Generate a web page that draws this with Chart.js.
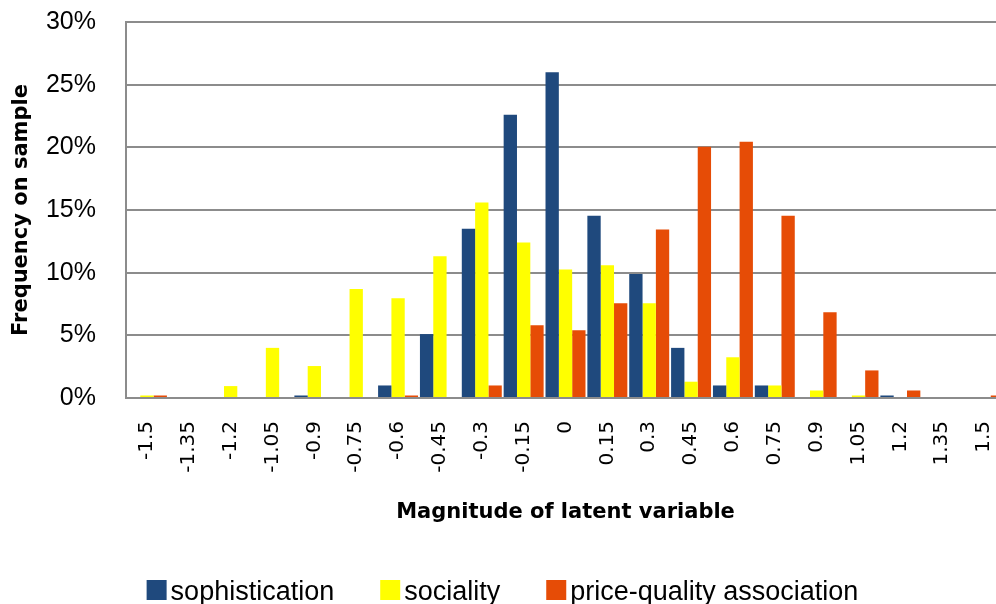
<!DOCTYPE html>
<html>
<head>
<meta charset="utf-8">
<script src="https://cdn.jsdelivr.net/npm/chart.js@4.4.1/dist/chart.umd.min.js"></script>
<style>
  html, body { margin: 0; padding: 0; background: #ffffff; overflow: hidden; }
  #wrap { width: 1010px; height: 604px; position: relative; }
</style>
</head>
<body>
<div id="wrap"><canvas id="c"></canvas></div>
<script>
const categories = ['-1.5','-1.35','-1.2','-1.05','-0.9','-0.75','-0.6','-0.45','-0.3','-0.15','0','0.15','0.3','0.45','0.6','0.75','0.9','1.05','1.2','1.35','1.5'];
const sophistication = [0, 0, 0, 0, 0.2, 0, 1.0, 5.1, 13.5, 22.6, 26.0, 14.55, 9.9, 4.0, 1.0, 1.0, 0, 0, 0.2, 0, 0];
const sociality = [0.2, 0, 0.95, 4.0, 2.55, 8.7, 7.95, 11.3, 15.6, 12.4, 10.25, 10.6, 7.55, 1.3, 3.25, 1.0, 0.6, 0.2, 0, 0, 0];
const priceQuality = [0.2, 0, 0, 0, 0, 0, 0.2, 0, 1.0, 5.8, 5.4, 7.55, 13.45, 20.05, 20.45, 14.55, 6.85, 2.2, 0.6, 0, 0.2];
const seriesNames = ['sophistication', 'sociality', 'price-quality association'];
const yTicks = [0, 5, 10, 15, 20, 25, 30];
const xTitle = 'Magnitude of latent variable';
const yTitle = 'Frequency on sample';

const colors = ['#1F497D', '#FFFF00', '#E64C06'];

const legendPlugin = {
  id: 'customLegend',
  afterDraw(chart) {
    const ctx = chart.ctx;
    ctx.save();
    ctx.font = '27px "Liberation Sans", Arial, sans-serif';
    ctx.textBaseline = 'alphabetic';
    ctx.textAlign = 'left';
    const box = 20, gap = 4, between = 46;
    const items = chart.data.datasets.map(d => ({label: d.label, color: d.backgroundColor, w: ctx.measureText(d.label).width}));
    let total = 0;
    items.forEach((it, i) => { total += box + gap + it.w + (i < items.length - 1 ? between : 0); });
    let x = 502.5 - total / 2;
    items.forEach(it => {
      ctx.fillStyle = it.color;
      ctx.fillRect(x, 580, box, 20);
      ctx.fillStyle = '#000000';
      ctx.fillText(it.label, x + box + gap, 600);
      x += box + gap + it.w + between;
    });
    ctx.restore();
  }
};

new Chart(document.getElementById('c'), {
  type: 'bar',
  data: {
    labels: categories,
    datasets: [
      { label: seriesNames[0], data: sophistication, backgroundColor: colors[0], borderWidth: 0 },
      { label: seriesNames[1], data: sociality, backgroundColor: colors[1], borderWidth: 0 },
      { label: seriesNames[2], data: priceQuality, backgroundColor: colors[2], borderWidth: 0 }
    ]
  },
  options: {
    responsive: true,
    maintainAspectRatio: false,
    animation: false,
    layout: { padding: { left: 0, right: 5, top: 22, bottom: 0 } },
    datasets: { bar: { categoryPercentage: 0.955, barPercentage: 1.0 } },
    plugins: {
      legend: { display: false },
      tooltip: { enabled: false }
    },
    scales: {
      x: {
        offset: true,
        grid: { display: false, drawTicks: true, tickLength: 22, tickColor: 'rgba(0,0,0,0)' },
        border: { display: true, color: '#8c8c8c', width: 2 },
        ticks: {
          minRotation: 90, maxRotation: 90, autoSkip: false,
          padding: 1,
          color: '#000000',
          font: { family: '"DejaVu Sans", Verdana, sans-serif', size: 20 }
        },
        title: {
          display: true, text: xTitle, color: '#000000',
          font: { family: '"DejaVu Sans", sans-serif', size: 21, weight: 'bold' },
          padding: { top: 0, bottom: 79 }
        },
        afterFit(scale) { scale.height = 206; }
      },
      y: {
        min: 0, max: 30,
        afterBuildTicks(scale) { scale.ticks = yTicks.map(v => ({ value: v })); },
        grid: { color: '#8c8c8c', lineWidth: 2, drawTicks: true, tickLength: 29, tickColor: 'rgba(0,0,0,0)' },
        border: { display: true, color: '#8c8c8c', width: 2 },
        ticks: {
          padding: 1,
          color: '#000000',
          font: { family: '"Liberation Sans", Arial, sans-serif', size: 25 },
          callback: v => v + '%'
        },
        title: {
          display: true, text: yTitle, color: '#000000',
          font: { family: '"DejaVu Sans", sans-serif', size: 21, weight: 'bold' },
          padding: { top: 9, bottom: 0 }
        },
        afterFit(scale) { scale.width = 126; }
      }
    }
  },
  plugins: [legendPlugin]
});
</script>
</body>
</html>
